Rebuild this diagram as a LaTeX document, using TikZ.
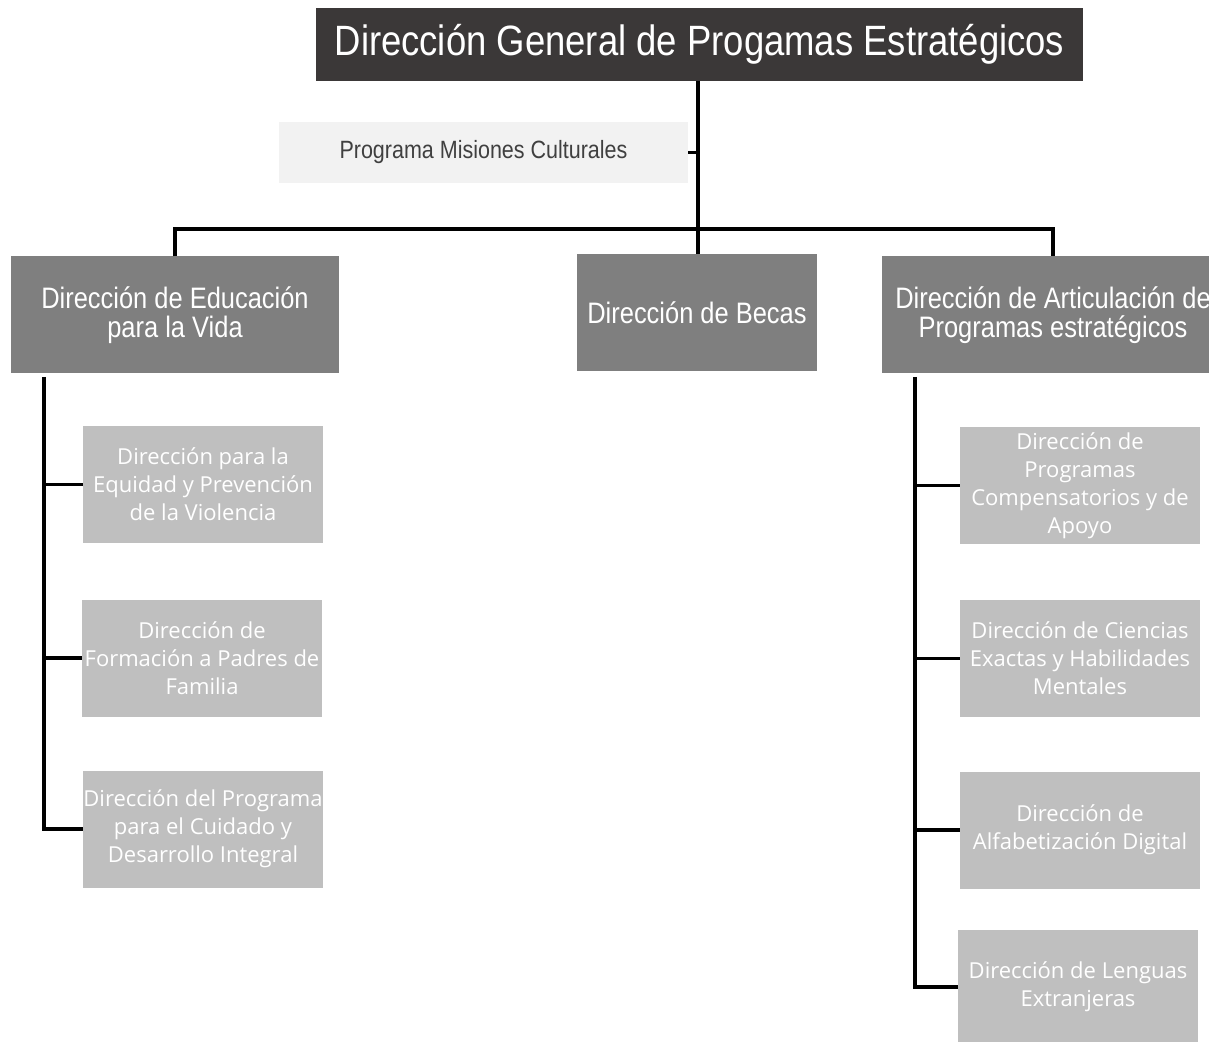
\documentclass[tikz,border=0pt]{standalone}
\usepackage{fontspec}
\newfontfamily\condfont{Liberation Sans}[FakeStretch=0.86]
\newfontfamily\boxfont{Open Sans}
\definecolor{dirdark}{HTML}{3B3838}
\definecolor{dirmid}{HTML}{7F7F7F}
\definecolor{dirlight}{HTML}{BFBFBF}
\definecolor{misfill}{HTML}{F2F2F2}
\definecolor{mistext}{HTML}{404040}

\begin{document}
\begin{tikzpicture}[x=0.5pt, y=-0.5pt,
  every node/.style={inner sep=0pt, outer sep=0pt, align=center},
  genbox/.style={fill=dirdark, text=white, minimum width=383.5pt, minimum height=36.5pt, font=\condfont\fontsize{21.2}{24}\selectfont},
  misbox/.style={fill=misfill, text=mistext, minimum width=204.5pt, minimum height=30.5pt, font=\condfont\fontsize{12.5}{15}\selectfont},
  dirbox/.style={fill=dirmid, text=white, minimum height=58.5pt, font=\condfont\fontsize{14.8}{14.2}\selectfont},
  subbox/.style={fill=dirlight, text=white, minimum width=120pt, minimum height=58.5pt, font=\boxfont\fontsize{11}{14}\selectfont},
  link/.style={line width=1.6pt}]
\useasboundingbox (0,0) rectangle (1209,1042);
\clip (0,0) rectangle (1209,1042);

\node[genbox] (gen) at (699.5,44.5) {Dirección General de Progamas Estratégicos};
\node[misbox] (mis) at (483.5,152.5) {Programa Misiones Culturales};

\node[dirbox, minimum width=164pt] (edu) at (175,315) {Dirección de Educación\\para la Vida};
\node[dirbox, minimum width=120pt] (becas) at (697,313) {Dirección de Becas};
\node[dirbox, minimum width=171pt] (art) at (1053,315) {Dirección de Articulación de\\Programas estratégicos};

\node[subbox] (equi) at (203,484.5) {Dirección para la\\Equidad y Prevención\\de la Violencia};
\node[subbox] (padres) at (202,658) {Dirección de\\Formación a Padres de\\Familia};
\node[subbox] (cuid) at (203,829) {Dirección del Programa\\para el Cuidado y\\Desarrollo Integral};

\node[subbox] (comp) at (1080,485.5) {Dirección de\\Programas\\Compensatorios y de\\Apoyo};
\node[subbox] (cien) at (1080,658.5) {Dirección de Ciencias\\Exactas y Habilidades\\Mentales};
\node[subbox] (alf) at (1080,830) {Dirección de\\Alfabetización Digital};
\node[subbox, minimum height=57pt] (leng) at (1078,987) {Dirección de Lenguas\\Extranjeras};

\coordinate (trunk) at (698,229);
\coordinate (lbar) at (44,377);
\coordinate (rbar) at (915,377);

\draw[link] (gen.south -| trunk) -- (becas.north -| trunk);
\draw[link] (mis.east) -- (mis.east -| trunk);
\draw[link] (edu.north) -- (edu.north |- trunk) -- (art.north |- trunk) -- (art.north);

\draw[link] (lbar) -- (cuid.west -| lbar) -- (cuid.west);
\foreach \n in {equi,padres}
  \draw[link] (\n.west -| lbar) -- (\n.west);

\draw[link] (rbar) -- (leng.west -| rbar) -- (leng.west);
\foreach \n in {comp,cien,alf}
  \draw[link] (\n.west -| rbar) -- (\n.west);
\end{tikzpicture}
\end{document}
